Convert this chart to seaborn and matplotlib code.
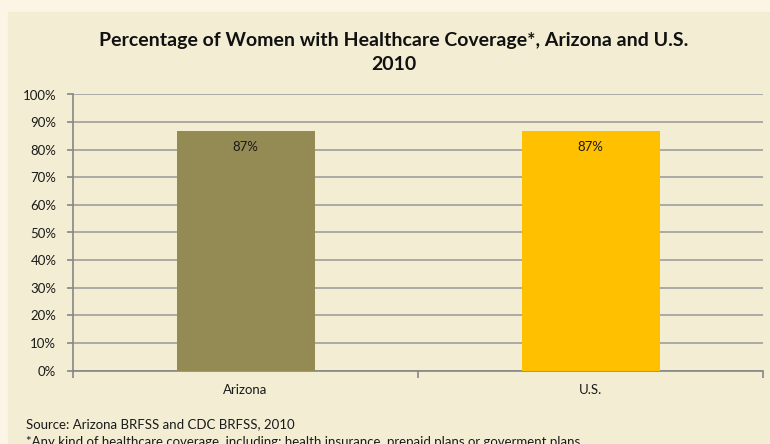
import matplotlib.pyplot as plt
import matplotlib.ticker as mticker
from matplotlib.patches import Rectangle
import seaborn as sns
import pandas as pd

# Data
regions = ['Arizona', 'U.S.']
coverage = [0.866, 0.867]
bar_labels = ['87%', '87%']
bar_colors = ['#948A54', '#FFC000']

outer_bg = '#FCF5E6'
panel_bg = '#F2EDD3'
grid_col = '#9E9E9E'

sns.set_style('white')
plt.rcParams['font.family'] = ['Lato', 'DejaVu Sans']

df = pd.DataFrame({'region': regions, 'coverage': coverage})

fig = plt.figure(figsize=(7.7, 4.44), dpi=100)
fig.patch.set_facecolor(outer_bg)
# beige chart panel, offset from top-left like the original
fig.patches.append(Rectangle((8 / 770, 0), 1, (444 - 12) / 444,
                             transform=fig.transFigure, color=panel_bg, zorder=-10))

ax = fig.add_axes([73 / 770, (444 - 370.5) / 444, 690 / 770, 276 / 444])
ax.set_facecolor(panel_bg)

sns.barplot(data=df, x='region', y='coverage', hue='region', palette=bar_colors,
            width=0.4, saturation=1, legend=False, ax=ax, zorder=3,
            edgecolor='none', linewidth=0)

ax.set_xlim(-0.5, 1.5)
ax.set_ylim(0, 1)
ax.yaxis.set_major_locator(mticker.MultipleLocator(0.1))
ax.yaxis.set_major_formatter(mticker.FuncFormatter(lambda v, p: f'{v * 100:.0f}%'))
ax.grid(axis='y', color=grid_col, linewidth=1.2, zorder=0)
ax.set_axisbelow(True)

for s in ['top', 'right']:
    ax.spines[s].set_visible(False)
for s in ['left', 'bottom']:
    ax.spines[s].set_color('#868686')
    ax.spines[s].set_linewidth(1.2)

ax.tick_params(axis='y', left=True, length=4, width=1.2, color='#868686',
               labelsize=9.5, pad=8, labelcolor='#1a1a1a')
ax.tick_params(axis='x', which='major', length=0, labelsize=9.5, pad=10,
               labelcolor='#1a1a1a')
ax.set_xticks([-0.5, 0.5, 1.5], minor=True)
ax.tick_params(axis='x', which='minor', bottom=True, length=5, width=1.2,
               color='#868686')
ax.set_xlabel('')
ax.set_ylabel('')

for i, (v, lab) in enumerate(zip(coverage, bar_labels)):
    ax.text(i, v - 0.058, lab, ha='center', va='center', fontsize=9.5,
            color='#1a1a1a', zorder=4)

fig.text(394 / 770, 1 - 52.5 / 444,
         'Percentage of Women with Healthcare Coverage*, Arizona and U.S.\n2010',
         ha='center', va='center', fontsize=14, fontweight='bold',
         linespacing=1.45, color='#111111')

fig.text(26 / 770, 1 - 424 / 444, 'Source: Arizona BRFSS and CDC BRFSS, 2010',
         ha='left', va='center', fontsize=9.5, color='#1a1a1a')
fig.text(26 / 770, 1 - 441.5 / 444,
         '*Any kind of healthcare coverage, including: health insurance, prepaid plans or goverment plans',
         ha='left', va='center', fontsize=9.5, color='#1a1a1a')

fig.savefig('out.png', dpi=100, facecolor=outer_bg)
